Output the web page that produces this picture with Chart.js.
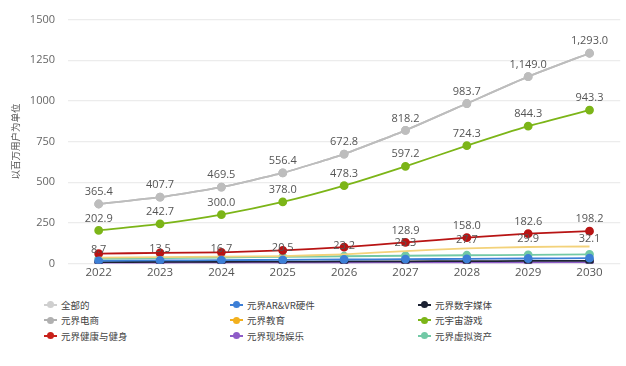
<!DOCTYPE html>
<html>
<head>
<meta charset="utf-8">
<script src="https://cdn.jsdelivr.net/npm/chart.js@4/dist/chart.umd.min.js"></script>
<style>
  body { margin: 0; background: #fff; font-family: "Noto Sans CJK SC", "Open Sans", sans-serif; }
  #wrap { position: relative; width: 626px; height: 366px; }
  #legend { position: absolute; left: 44px; top: 297px; display: grid;
    grid-template-columns: 186px 188px 180px; grid-auto-rows: 15.5px; font-size: 9.5px; color: #444; }
  .item { display: flex; align-items: center; white-space: nowrap; }
  .mk { position: relative; width: 13px; height: 10px; margin-right: 4px; }
  .mk i { position: absolute; left: 0; top: 4px; width: 13px; height: 2px; }
  .mk b { position: absolute; left: 3px; top: 1.5px; width: 7px; height: 7px; border-radius: 50%; }
</style>
</head>
<body>
<div id="wrap">
  <canvas id="trendChart" width="626" height="283"></canvas>
  <div id="legend"></div>
</div>
<script>
const years = ['2022', '2023', '2024', '2025', '2026', '2027', '2028', '2029', '2030'];

const allValues = [365.4, 407.7, 469.5, 556.4, 672.8, 818.2, 983.7, 1149.0, 1293.0];
const ecommerceValues = [365.4, 407.7, 469.5, 556.4, 672.8, 818.2, 983.7, 1149.0, 1293.0];
const gamingValues = [202.9, 242.7, 300.0, 378.0, 478.3, 597.2, 724.3, 844.3, 943.3];
const healthValues = [60, 65, 68, 80, 100, 128.9, 158.0, 182.6, 198.2];
const healthLabels = [null, null, null, null, null, 128.9, 158.0, 182.6, 198.2];
const educationValues = [35, 38, 42, 45, 56, 76, 93, 101, 104];
const educationLabels = [8.7, 13.5, 16.7, 20.5, 23.2, 25.3, 27.7, 29.9, 32.1];
const assetsValues = [28, 32, 36, 40, 44, 47, 50, 53, 56];
const arvrValues = [16, 18, 20, 22, 24, 26, 28, 30, 32];
const mediaValues = [8, 9, 10, 11, 12, 13, 14, 15, 16];
const liveValues = [2, 2.5, 3, 3.5, 4, 4.5, 5, 5.5, 6];

const fmt = v => v.toLocaleString('en-US', { minimumFractionDigits: 1, maximumFractionDigits: 1 });

function series(label, data, color, labels, extra) {
    return Object.assign({
        label: label,
        data: data,
        borderColor: color,
        backgroundColor: color,
        pointBackgroundColor: color,
        pointBorderColor: color,
        borderWidth: 1.8,
        pointRadius: 3.5,
        tension: 0.15,
        valueLabels: labels || null
    }, extra || {});
}

// legend order (row by row, 3 columns)
const datasets = [
    series('全部的', allValues, '#bdbdbd', allValues, { legendColor: '#cfcfcf' }),
    series('元界AR&VR硬件', arvrValues, '#3d7fd6', null),
    series('元界数字媒体', mediaValues, '#1c2233', null),
    series('元界电商', ecommerceValues, '#b8b8b8', null, { legendColor: '#b0b0b0' }),
    series('元界教育', educationValues, '#f3d27a', educationLabels, { legendColor: '#f2b01e', pointRadius: 0 }),
    series('元宇宙游戏', gamingValues, '#7cb518', gamingValues),
    series('元界健康与健身', healthValues, '#b81414', healthLabels, { legendColor: '#c8201a' }),
    series('元界现场娱乐', liveValues, '#8e5cc8', null),
    series('元界虚拟资产', assetsValues, '#72c9a6', null)
];

const valueLabelPlugin = {
    id: 'valueLabels',
    afterDatasetsDraw(chart) {
        const ctx = chart.ctx;
        ctx.save();
        ctx.font = '11px "Open Sans", "DejaVu Sans", sans-serif';
        ctx.fillStyle = '#555';
        ctx.textAlign = 'center';
        ctx.textBaseline = 'middle';
        chart.data.datasets.forEach((ds, i) => {
            if (!ds.valueLabels) return;
            const meta = chart.getDatasetMeta(i);
            meta.data.forEach((pt, j) => {
                const v = ds.valueLabels[j];
                if (v === null || v === undefined) return;
                const off = ds.label === '元界教育' ? 8 : 12;
                ctx.fillText(fmt(v), pt.x, pt.y - off);
            });
        });
        ctx.restore();
    }
};

new Chart(document.getElementById('trendChart'), {
    type: 'line',
    data: { labels: years, datasets: datasets },
    plugins: [valueLabelPlugin],
    options: {
        responsive: false,
        animation: false,
        layout: { padding: { top: 19, right: 3, left: 0, bottom: 0 } },
        plugins: { legend: { display: false }, tooltip: { enabled: false } },
        scales: {
            x: {
                offset: true,
                grid: { display: false, drawTicks: false },
                border: { display: false },
                ticks: { color: '#555', padding: 2, font: { size: 11.5, family: '"Open Sans", sans-serif' } }
            },
            y: {
                min: 0,
                max: 1500,
                afterFit: s => { s.width = 68; },
                grid: { color: '#ececec', drawTicks: false, lineWidth: 1.2 },
                border: { display: false },
                ticks: {
                    stepSize: 250, color: '#666', padding: 13,
                    font: { size: 11, family: '"Open Sans", sans-serif' },
                    callback: v => String(v)
                },
                title: {
                    display: true,
                    text: '以百万用户为单位',
                    color: '#555',
                    padding: { top: 10, bottom: 0 },
                    font: { size: 9.5, family: '"Noto Sans CJK SC", sans-serif' }
                }
            }
        }
    }
});

const legendBox = document.getElementById('legend');
datasets.forEach(ds => {
    const c = ds.legendColor || ds.borderColor;
    const el = document.createElement('div');
    el.className = 'item';
    el.innerHTML = '<span class="mk"><i style="background:' + c + '"></i><b style="background:' + c + '"></b></span>' + ds.label;
    legendBox.appendChild(el);
});
</script>
</body>
</html>
